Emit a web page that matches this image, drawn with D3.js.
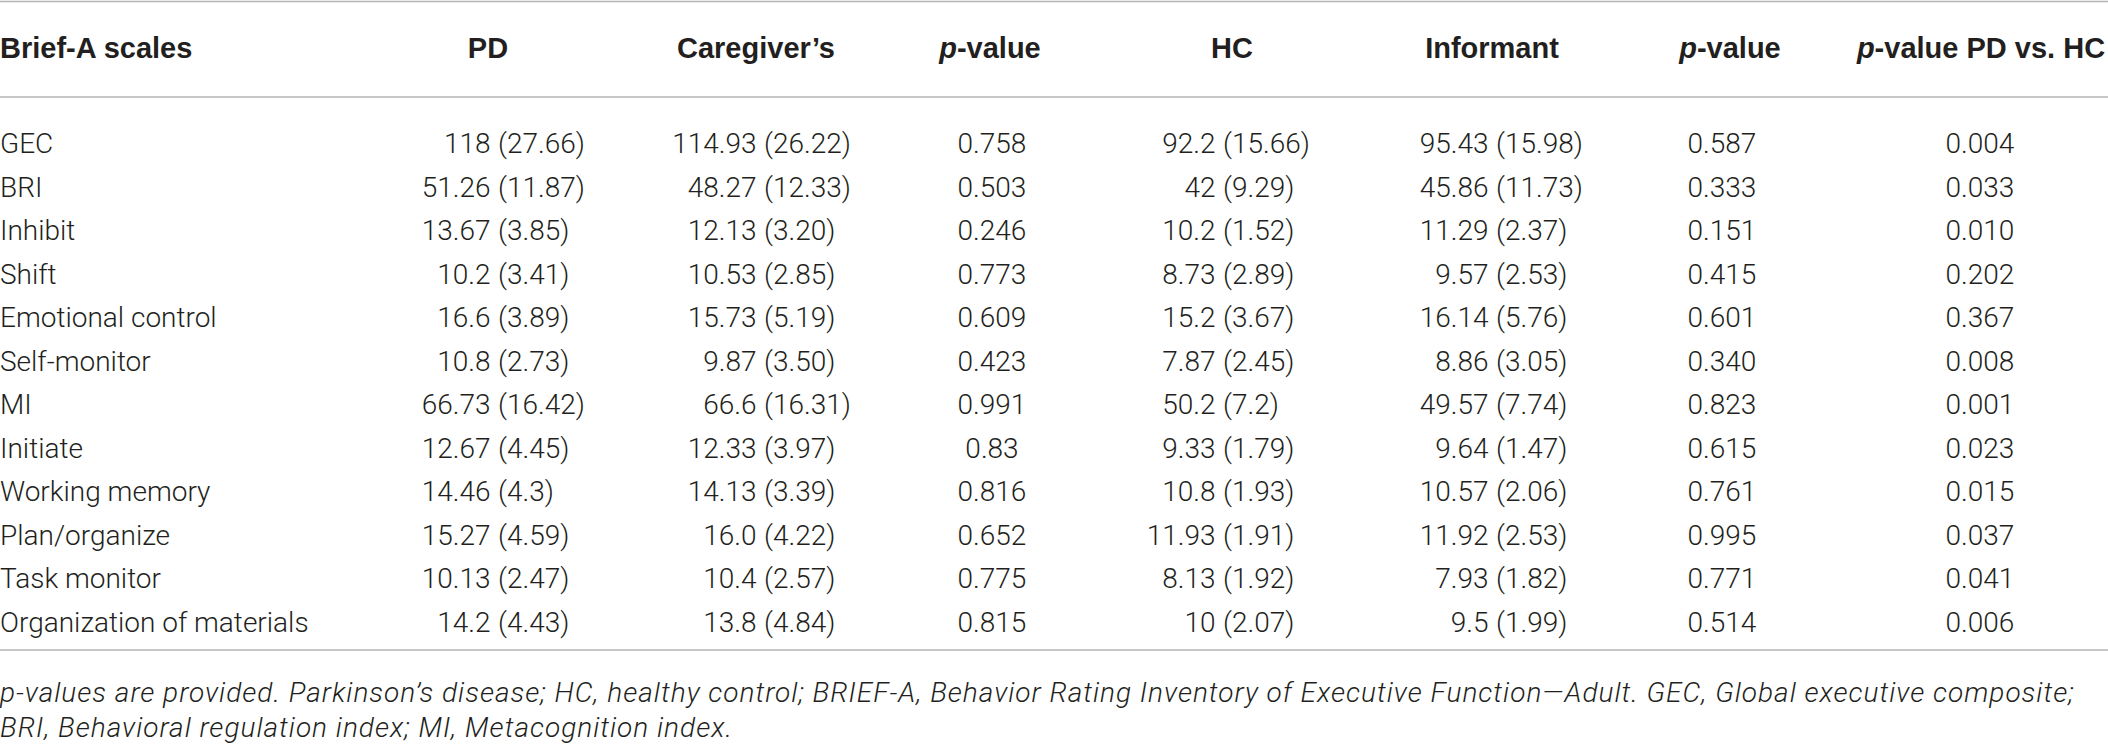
<!DOCTYPE html>
<html>
<head>
<meta charset="utf-8">
<script src="https://cdn.jsdelivr.net/npm/d3@7"></script>
<style>
  body { margin: 0; background: #fff; }
  svg { display: block; }
</style>
</head>
<body>
<div id="table"></div>
<script>
// rows of the table
const scales = ["GEC", "BRI", "Inhibit", "Shift", "Emotional control", "Self-monitor", "MI",
    "Initiate", "Working memory", "Plan/organize", "Task monitor", "Organization of materials"]

// mean and sd kept as strings so the printed decimals stay as in the source
const pdMean = ["118", "51.26", "13.67", "10.2", "16.6", "10.8", "66.73", "12.67", "14.46", "15.27", "10.13", "14.2"]
const pdSd = ["27.66", "11.87", "3.85", "3.41", "3.89", "2.73", "16.42", "4.45", "4.3", "4.59", "2.47", "4.43"]
const cgMean = ["114.93", "48.27", "12.13", "10.53", "15.73", "9.87", "66.6", "12.33", "14.13", "16.0", "10.4", "13.8"]
const cgSd = ["26.22", "12.33", "3.20", "2.85", "5.19", "3.50", "16.31", "3.97", "3.39", "4.22", "2.57", "4.84"]
const pPdCg = ["0.758", "0.503", "0.246", "0.773", "0.609", "0.423", "0.991", "0.83", "0.816", "0.652", "0.775", "0.815"]
const hcMean = ["92.2", "42", "10.2", "8.73", "15.2", "7.87", "50.2", "9.33", "10.8", "11.93", "8.13", "10"]
const hcSd = ["15.66", "9.29", "1.52", "2.89", "3.67", "2.45", "7.2", "1.79", "1.93", "1.91", "1.92", "2.07"]
const infMean = ["95.43", "45.86", "11.29", "9.57", "16.14", "8.86", "49.57", "9.64", "10.57", "11.92", "7.93", "9.5"]
const infSd = ["15.98", "11.73", "2.37", "2.53", "5.76", "3.05", "7.74", "1.47", "2.06", "2.53", "1.82", "1.99"]
const pHcInf = ["0.587", "0.333", "0.151", "0.415", "0.601", "0.340", "0.823", "0.615", "0.761", "0.995", "0.771", "0.514"]
const pPdHc = ["0.004", "0.033", "0.010", "0.202", "0.367", "0.008", "0.001", "0.023", "0.015", "0.037", "0.041", "0.006"]

const columns = ["scale", "pd", "cg", "p1", "hc", "inf", "p2", "p3"]
const headers = ["Brief-A scales", "PD", "Caregiver\u2019s", "p|-value", "HC", "Informant", "p|-value", "p|-value PD vs. HC"]
const footnote = [
    "p-values are provided. Parkinson\u2019s disease; HC, healthy control; BRIEF-A, Behavior Rating Inventory of Executive Function\u2014Adult. GEC, Global executive composite;",
    "BRI, Behavioral regulation index; MI, Metacognition index."
]

const width = 2108
const height = 744
const ink = "#231f20"
const rule = "#b4b4b4"
const bodyFont = "Roboto, 'Liberation Sans', sans-serif"
const headFont = "'Liberation Sans', Arial, sans-serif"

// x of each column: for mean (sd) columns the "(" sits here, otherwise text centre
const colX = d3.scaleOrdinal()
    .domain(columns)
    .range([0, 498, 764, 992, 1223, 1496, 1722, 1980])
const headShift = {scale: 0, pd: -10, cg: -8, p1: -2, hc: 9, inf: -4, p2: 8, p3: 1}

const y = d3.scalePoint()
    .domain(d3.range(scales.length))
    .range([153, 632])

const svg = d3.select("#table").append("svg")
    .attr("width", width)
    .attr("height", height)

// rules
const rules = [1.5, 97, 650]
svg.append("g")
    .selectAll("line")
    .data(rules)
    .join("line")
    .attr("x1", 0)
    .attr("x2", width)
    .attr("y1", d => d)
    .attr("y2", d => d)
    .attr("stroke", rule)
    .attr("stroke-width", 1.6)

// header row
svg.append("g")
    .attr("font-family", headFont)
    .attr("font-weight", "bold")
    .attr("font-size", 29)
    .attr("fill", ink)
    .selectAll("text")
    .data(columns)
    .join("text")
    .attr("x", d => colX(d) + headShift[d])
    .attr("y", 58)
    .attr("text-anchor", d => d === "scale" ? "start" : "middle")
    .each(function(d, i) {
        const parts = headers[i].split("|")
        const t = d3.select(this)
        if (parts.length > 1) {
            t.append("tspan").attr("font-style", "italic").text(parts[0])
            t.append("tspan").text(parts[1])
        } else {
            t.text(parts[0])
        }
    })

const body = svg.append("g")
    .attr("font-family", bodyFont)
    .attr("font-weight", 300)
    .attr("font-size", 28)
    .attr("fill", ink)

// first column
body.append("g")
    .selectAll("text")
    .data(scales)
    .join("text")
    .attr("x", colX("scale"))
    .attr("y", (d, i) => y(i))
    .text(d => d)

// mean (sd) columns, aligned on the opening bracket
const gap = 7.5
const meanSd = [["pd", pdMean, pdSd], ["cg", cgMean, cgSd], ["hc", hcMean, hcSd], ["inf", infMean, infSd]]
meanSd.forEach(([key, means, sds]) => {
    const g = body.append("g")
    g.selectAll("text.mean")
        .data(means)
        .join("text")
        .attr("class", "mean")
        .attr("x", colX(key) - gap)
        .attr("y", (d, i) => y(i))
        .attr("text-anchor", "end")
        .text(d => d)
    g.selectAll("text.sd")
        .data(sds)
        .join("text")
        .attr("class", "sd")
        .attr("x", colX(key))
        .attr("y", (d, i) => y(i))
        .text(d => "(" + d + ")")
})

// p-value columns, centred
const pCols = [["p1", pPdCg], ["p2", pHcInf], ["p3", pPdHc]]
pCols.forEach(([key, vals]) => {
    body.append("g")
        .selectAll("text")
        .data(vals)
        .join("text")
        .attr("x", colX(key))
        .attr("y", (d, i) => y(i))
        .attr("text-anchor", "middle")
        .text(d => d)
})

// footnote
svg.append("g")
    .attr("font-family", bodyFont)
    .attr("font-weight", 300)
    .attr("font-style", "italic")
    .attr("font-size", 28)
    .attr("letter-spacing", 1)
    .attr("fill", ink)
    .selectAll("text")
    .data(footnote)
    .join("text")
    .attr("x", 0)
    .attr("y", (d, i) => 702 + i * 35)
    .text(d => d)
</script>
</body>
</html>
